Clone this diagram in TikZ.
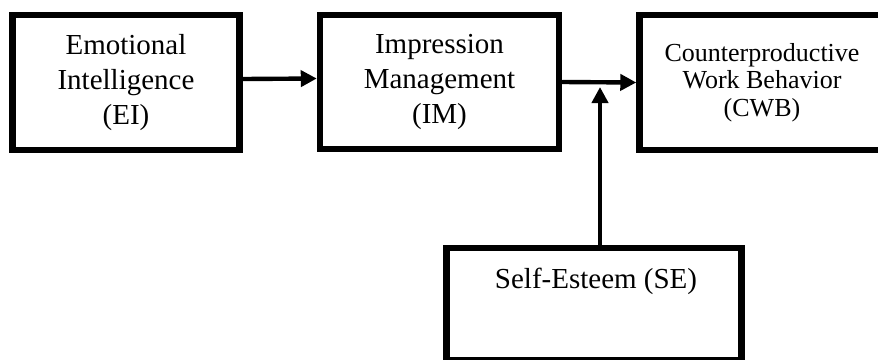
\documentclass[tikz,border=0pt]{standalone}
\usepackage{fontspec}
\setmainfont{Liberation Serif}
\usetikzlibrary{calc,arrows.meta}
\definecolor{ink}{HTML}{000000}
\tikzset{
  box/.style={draw=ink, line width=3.7pt, rectangle, inner sep=0pt, align=center, font=\fontsize{16.5}{20}\selectfont},
  boxs/.style={box, font=\fontsize{14.8}{15.6}\selectfont},
  arr/.style={draw=ink, line width=2.5pt, -{Triangle[length=0.32cm,width=0.32cm]}},
  lab/.style={text=ink, font=\fontsize{16.5}{20}\selectfont},
}
\begin{document}
\begin{tikzpicture}[x=0.02cm,y=-0.02cm]
  \useasboundingbox (0,0) rectangle (878,359);
  \clip (0,0) rectangle (878,359);
  \node[box, minimum width=4.55cm, minimum height=2.7cm] (ei) at (126,82.5) {Emotional\\Intelligence\\(EI)};
  \node[box, minimum width=4.78cm, minimum height=2.68cm] (im) at (439.5,82) {Impression\\Management\\(IM)};
  \node[boxs, minimum width=4.9cm, minimum height=2.7cm] (cwb) at (762,82.5) {Counterproductive\\Work Behavior\\(CWB)};
  \node[box, minimum width=5.9cm, minimum height=2.24cm] (se) at (594,304) {};
  \node[lab, anchor=base] (selab) at (596,288) {Self-Esteem (SE)};
  \coordinate (j) at (600,87);
  % paths
  \draw[arr] ([yshift=0.07cm]ei.east) -- ([yshift=0.07cm]im.west);
  \draw[arr] (im.east) -- (cwb.west);
  \draw[arr] (se.north -| j) -- (j);
\end{tikzpicture}
\end{document}
